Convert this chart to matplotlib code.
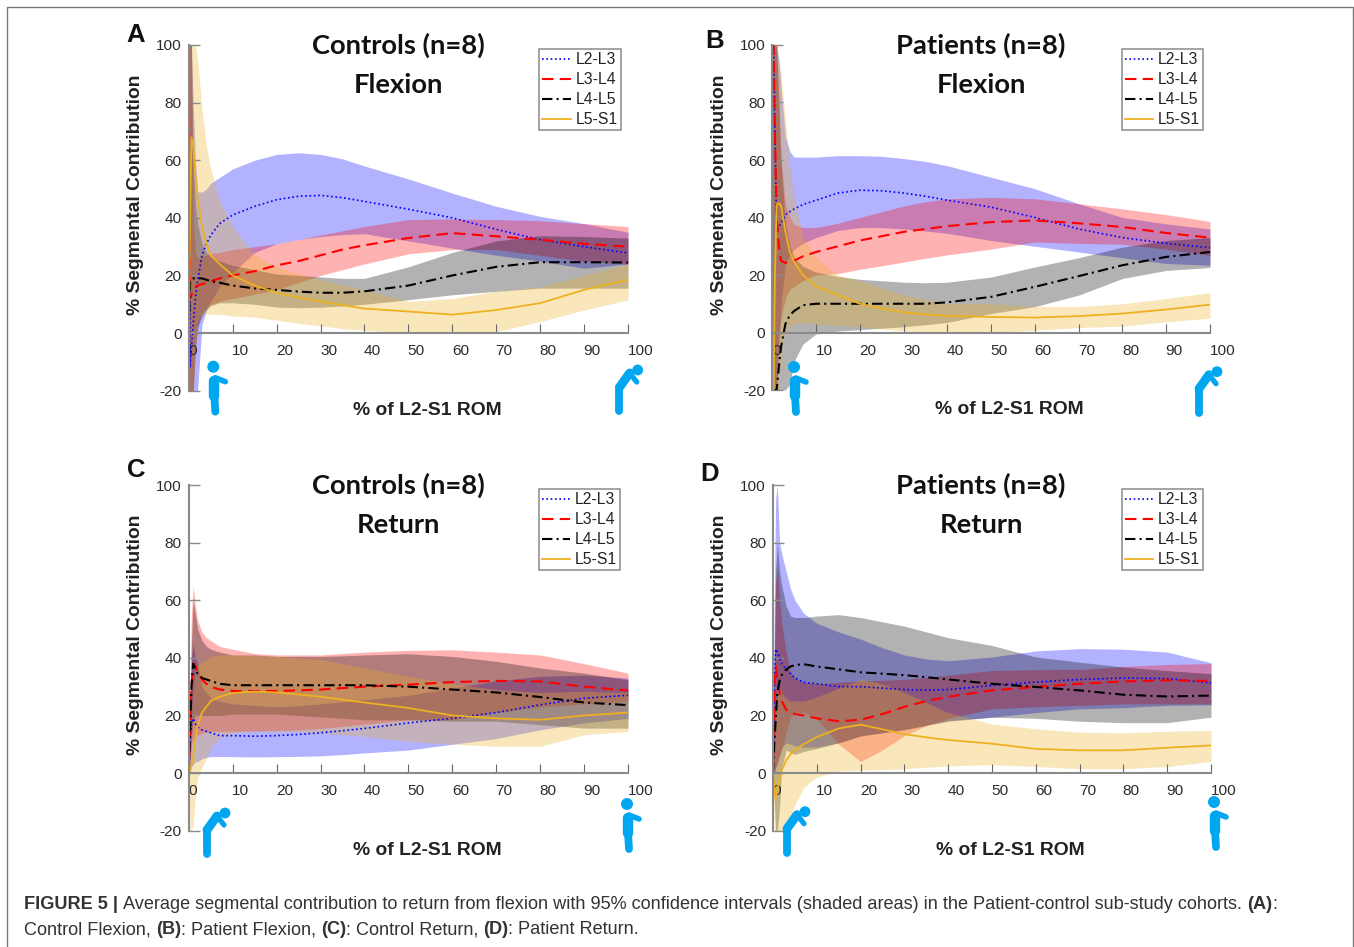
import matplotlib
matplotlib.use("Agg")
import matplotlib.pyplot as plt
from matplotlib.lines import Line2D
from matplotlib.patches import Circle
from matplotlib.transforms import ScaledTranslation

plt.rcParams['font.family'] = ['Liberation Sans', 'DejaVu Sans']
plt.rcParams['axes.unicode_minus'] = False

# % of L2-S1 ROM, gemeinsam fuer alle Kurven
x_pct = [0, 0.3, 0.6, 1, 1.5, 2, 3, 4, 5, 7, 10, 15, 20, 25, 30, 35, 40, 50, 60, 70, 80, 90, 100]
segments = ["L2-L3", "L3-L4", "L4-L5", "L5-S1"]
y_ticks = [-20, 0, 20, 40, 60, 80, 100]
x_ticks = [0, 10, 20, 30, 40, 50, 60, 70, 80, 90, 100]

# A: Controls Flexion
a_l23_mean = [100, -12, -5, 3, 12, 18, 27, 31, 34, 38, 41, 44, 46.3, 47.5, 47.8, 47, 45.7, 43, 40, 36, 32.4, 30, 27.8]
a_l23_lo = [-20, -20, -20, -20, -20, -20, 3, 8, 11, 16, 21, 28, 31, 32.5, 33.5, 34.2, 34.5, 32, 29.5, 27, 25, 22.5, 24]
a_l23_hi = [100, 100, 100, 80, 60, 49, 49, 50, 52, 54, 57, 60, 62, 62.6, 62, 60.5, 58, 53.5, 48.6, 44, 40.5, 38, 35]
a_l34_mean = [100, 12, 13, 15, 16, 16.5, 17, 17.5, 18, 19, 20, 21.5, 23.5, 25, 27, 29, 30.5, 33, 34.7, 33.6, 32.4, 31, 30]
a_l34_lo = [-20, -20, -20, -20, -5, 3, 7, 9, 10, 11, 12, 13.5, 15, 17.5, 20, 22, 24, 27.5, 29, 29, 27, 25, 24]
a_l34_hi = [100, 100, 100, 40, 28, 26, 26.5, 27, 27.5, 28, 29, 30, 31, 32.5, 34, 35.5, 37, 39.4, 39.6, 39.4, 39, 38, 37]
a_l45_mean = [0, 18, 19, 19, 19, 19, 19, 18.5, 18, 17.5, 16.5, 15.5, 15, 14.4, 14, 14, 14.5, 16.5, 20, 23, 24.6, 24.6, 24.5]
a_l45_lo = [-20, -20, -20, -20, -5, 2, 6, 8, 9.5, 10.5, 10.5, 10, 9, 8.8, 9, 9.4, 10, 11.6, 13.3, 14.5, 15.6, 15.6, 15.6]
a_l45_hi = [100, 100, 100, 60, 45, 38, 31, 28, 26.5, 25, 23.5, 22, 20.5, 20, 19.5, 19, 19, 23, 28, 32, 33.8, 33.5, 33]
a_l5s_mean = [0, 40, 68, 65, 55, 47, 37, 31, 27, 24, 20, 16.5, 14, 12.4, 11, 9.7, 8.5, 7.5, 6.4, 8, 10.4, 15, 18.5]
a_l5s_lo = [-20, -20, -20, -20, -5, 4, 6.5, 6.5, 6.5, 6.5, 6, 5.5, 4.5, 3.4, 2.5, 1.6, 1, 0, 0, 0.5, 4, 8, 11.5]
a_l5s_hi = [100, 100, 100, 100, 100, 95, 78, 65, 57, 46, 37, 27, 23, 20.5, 18.5, 16.7, 15, 11, 12, 14.5, 16, 20, 24]

# B: Patients Flexion
b_l23_mean = [100, 100, 70, 35, 37, 38, 41, 42, 43, 44.5, 46, 48.5, 49.5, 49.3, 48.5, 47.4, 46, 43.6, 40, 36, 33, 31, 29.5]
b_l23_lo = [-20, -20, -20, -20, -5, 10, 24, 27, 29, 31, 33, 35.5, 36.5, 36.5, 36, 35.3, 34.5, 32, 30, 28, 26, 24, 23.4]
b_l23_hi = [100, 100, 100, 100, 95, 85, 68, 63, 61, 61, 61, 61.5, 61.5, 61.3, 60.5, 59.5, 58, 54, 50, 44.8, 40, 37.8, 36]
b_l34_mean = [100, 100, 70, 40, 30, 25, 24.2, 24.5, 25, 26.5, 28, 30, 32, 33.5, 35, 36, 37, 38.4, 39, 38, 36.7, 34.6, 33]
b_l34_lo = [-20, -20, -20, -20, 0, 5, 12, 15, 16, 18, 20, 20.5, 22, 23.2, 24.5, 25.8, 27, 29, 31.5, 31, 30.7, 29, 26.8]
b_l34_hi = [100, 100, 100, 100, 80, 60, 45, 40, 37.5, 36.5, 36.5, 38, 40, 42, 44, 45.5, 46.5, 47, 46.5, 44.8, 43, 41, 38.6]
b_l45_mean = [-20, -20, -20, -20, -12, -5, 3, 6, 7.5, 9.5, 10, 10, 10, 10, 10, 10, 10.5, 12.4, 15.9, 19.6, 23.4, 26.3, 28]
b_l45_lo = [-20, -20, -20, -20, -20, -20, -20, -18, -10, -4, -0.5, 0.5, 1, 1.5, 2, 2.7, 3.5, 6.6, 9, 13, 18.8, 21.6, 22.6]
b_l45_hi = [100, 100, 100, 100, 80, 60, 38, 30, 26, 23, 21, 19.5, 18.5, 18, 17.5, 17.3, 17.5, 19.3, 22.8, 26, 29.7, 32, 33]
b_l5s_mean = [-20, -20, 20, 44.5, 45, 44, 35, 28, 24.5, 20, 16, 13, 10, 8.3, 7, 6.3, 5.8, 5.4, 5.2, 5.7, 6.6, 8, 9.7]
b_l5s_lo = [-20, -20, -20, -20, -20, -5, 0, 2, 3, 3.5, 3, 2.5, 2, 1.2, 0.5, 0.2, 0, 0, 0.8, 1.7, 2.2, 3.7, 5]
b_l5s_hi = [100, 100, 100, 100, 95, 90, 74, 58, 47, 33, 26, 20, 18, 15.5, 13, 11.5, 10, 10, 9, 9, 10, 11.8, 13.9]

# C: Controls Return
c_l23_mean = [0, 10, 17, 19, 17, 16, 15, 14.5, 14, 13, 13, 12.8, 13, 13.4, 14, 14.7, 15.5, 17.4, 19, 21, 23.7, 26, 27]
c_l23_lo = [0, 0, 2, 3, 4, 4, 5, 5.5, 5.7, 5.8, 5.7, 5.6, 5.7, 5.8, 6, 6.4, 7, 8, 10, 12, 15, 17.4, 19]
c_l23_hi = [0, 20, 40, 45, 40, 38, 30, 28, 26, 25, 24, 23.5, 23, 23.4, 24, 24.7, 25.5, 27, 29.5, 32, 33.6, 34, 33]
c_l34_mean = [0, 15, 30, 38, 37, 35.5, 32.5, 31, 30, 29, 28.5, 28.5, 28.5, 28.7, 29, 29.5, 30, 30.7, 31.6, 32, 31.8, 30, 28.7]
c_l34_lo = [0, 5, 10, 12, 13, 13, 14, 14, 14.5, 14.5, 14.5, 14.6, 14.8, 15, 15.5, 16.2, 17, 18.5, 18.5, 21, 23, 24, 25]
c_l34_hi = [0, 30, 55, 65, 58, 53, 49, 47, 46, 44, 43, 41.5, 41, 41, 41, 41.5, 42, 42.6, 42.8, 42, 41, 38, 34.7]
c_l45_mean = [0, 15, 30, 38, 36, 34.5, 33, 32.5, 32, 31, 30.5, 30.5, 30.5, 30.5, 30.5, 30.5, 30.5, 30, 29, 28, 26.4, 24.5, 23.6]
c_l45_lo = [0, 5, 12, 18, 20, 20, 20, 20, 20, 20, 20.5, 20.5, 20.5, 20, 19.5, 19, 18.5, 18.5, 18, 18, 16.8, 15.6, 15.6]
c_l45_hi = [0, 20, 45, 60, 55, 50, 46, 44, 43, 42, 41, 41, 40.5, 40.5, 40.5, 40.7, 41, 41.4, 40.5, 38.8, 36.5, 34.7, 32.4]
c_l5s_mean = [0, 1, 3, 6, 12, 16, 21, 23, 25, 26.5, 27.8, 28.3, 28, 27.3, 26.5, 25.5, 24.5, 22.6, 20, 19, 18.5, 20, 21]
c_l5s_lo = [0, -20, -20, -18, -8, -2, 2, 5, 9, 12, 14, 14.5, 14.5, 14.3, 14, 13.4, 12.7, 11, 10, 9.3, 9.3, 13.3, 14.5]
c_l5s_hi = [0, 10, 20, 30, 36, 37.5, 38.5, 39.5, 40.5, 41, 41, 40.8, 40.5, 40, 39.4, 38, 36.5, 33.6, 31, 29, 28, 28.4, 28]

# D: Patients Return
d_l23_mean = [0, 30, 43, 42, 40, 38, 36, 34.5, 33, 31.5, 31, 30, 30, 29.5, 29, 28.8, 29, 30.4, 31.6, 32.5, 33, 32.8, 31.3]
d_l23_lo = [0, 0, 2, 3, 6, 9, 10.5, 10, 9.5, 9, 9, 10.5, 13, 14, 15.2, 16.7, 18.2, 19.4, 21, 22.3, 22.7, 23.5, 23.7]
d_l23_hi = [0, 60, 95, 100, 80, 76, 70, 64, 60, 55.5, 52, 49, 46.5, 43.5, 41, 39.6, 39, 40.3, 42.4, 43.2, 43, 42, 38.3]
d_l34_mean = [0, 25, 37, 33, 28, 25, 22, 21, 20.5, 20, 19, 18, 18.5, 20.5, 23, 25, 26.5, 28.7, 29.9, 31, 31.8, 32.2, 32]
d_l34_lo = [0, 0, 2, 4, 6, 8, 14, 19.5, 21, 21, 18.9, 10, 4, 8, 13, 16.5, 19, 22.3, 23, 23.5, 24, 24, 24]
d_l34_hi = [0, 40, 65, 72, 60, 52, 42, 35, 33, 31.5, 31, 31.5, 32, 32.2, 32.5, 33.2, 34, 35.6, 35.9, 36, 37, 37.7, 38]
d_l45_mean = [0, 10, 18, 28, 32, 34, 36, 37, 37.5, 37.8, 37, 36, 35, 34.5, 34, 33.3, 32.5, 31, 29.9, 28.7, 27.2, 26.6, 26.9]
d_l45_lo = [0, -10, -20, -20, -12, 2, 8, 7, 6.5, 7.5, 8.5, 10.5, 12.8, 14, 15, 16.5, 18, 19.4, 19, 18, 17.5, 17.5, 19.4]
d_l45_hi = [0, 40, 70, 80, 70, 65, 58, 54.5, 54, 54, 54.5, 55, 54, 52.5, 51, 49, 47, 44.3, 40.3, 38.5, 36.8, 35.6, 34.5]
d_l5s_mean = [0, -5, -9, -6, -2, 1, 4.5, 6.5, 8, 10, 12.5, 15.5, 16.8, 15.2, 13.5, 12.4, 11.5, 10.2, 8.4, 7.9, 7.9, 8.8, 9.6]
d_l5s_lo = [0, -20, -20, -20, -20, -20, -20, -15, -11, -5, -1.4, 0.8, 1, 1.2, 1.5, 2, 2.5, 2.9, 2.3, 1.5, 1.5, 2.3, 4]
d_l5s_hi = [0, 10, 20, 28, 30, 28, 26, 25, 25, 25, 26.4, 29.5, 32.5, 31, 28, 24.5, 21, 17, 15.4, 14.2, 14, 14.5, 14.8]

W, H = 1354, 947
colors = ["#0000ff", "#ff0000", "#000000", "#edb120"]
styles = [(0, (1, 1.6)), (0, (5.5, 3)), (0, (5, 2, 1, 2)), "-"]
widths = [1.2, 1.5, 1.5, 1.3]
gray = "#8a8a8a"
text_col = "#2b2b2b"
blue_fig = "#00a6f0"

fig = plt.figure(figsize=(W / 100, H / 100), dpi=100)


def px_axes(left, top, right, bottom):
    return fig.add_axes([left / W, 1 - bottom / H, (right - left) / W, (bottom - top) / H])


panels = [
    dict(box=(188.8, 45, 628, 390.7), legend=(539.3, 49.3), letter=("A", 136, 34.5),
         title=("Controls (n=8)", "Flexion", 398), ylab=135, xlab=(427, 410),
         data=[(a_l23_mean, a_l23_lo, a_l23_hi), (a_l34_mean, a_l34_lo, a_l34_hi),
               (a_l45_mean, a_l45_lo, a_l45_hi), (a_l5s_mean, a_l5s_lo, a_l5s_hi)]),
    dict(box=(772.3, 45, 1210, 390), legend=(1121.7, 49.3), letter=("B", 715, 40.5),
         title=("Patients (n=8)", "Flexion", 981), ylab=719, xlab=(1009, 409),
         data=[(b_l23_mean, b_l23_lo, b_l23_hi), (b_l34_mean, b_l34_lo, b_l34_hi),
               (b_l45_mean, b_l45_lo, b_l45_hi), (b_l5s_mean, b_l5s_lo, b_l5s_hi)]),
    dict(box=(188.8, 485, 628, 830.7), legend=(538.7, 489.3), letter=("C", 136, 469.5),
         title=("Controls (n=8)", "Return", 398), ylab=135, xlab=(427, 850),
         data=[(c_l23_mean, c_l23_lo, c_l23_hi), (c_l34_mean, c_l34_lo, c_l34_hi),
               (c_l45_mean, c_l45_lo, c_l45_hi), (c_l5s_mean, c_l5s_lo, c_l5s_hi)]),
    dict(box=(773, 485, 1211, 830.7), legend=(1121.7, 489.3), letter=("D", 710, 473.5),
         title=("Patients (n=8)", "Return", 981), ylab=719, xlab=(1010, 850),
         data=[(d_l23_mean, d_l23_lo, d_l23_hi), (d_l34_mean, d_l34_lo, d_l34_hi),
               (d_l45_mean, d_l45_lo, d_l45_hi), (d_l5s_mean, d_l5s_lo, d_l5s_hi)]),
]

for p in panels:
    ax = px_axes(*p["box"])
    ax.patch.set_alpha(0)
    for (mean, lo, hi), col in zip(p["data"], colors):
        ax.fill_between(x_pct, lo, hi, color=col, alpha=0.3, linewidth=0)
    handles = []
    for (mean, lo, hi), col, ls, lw, name in zip(p["data"], colors, styles, widths, segments):
        line, = ax.plot(x_pct, mean, color=col, linestyle=ls, linewidth=lw, label=name)
        handles.append(line)
    ax.set_xlim(0, 100)
    ax.set_ylim(-20, 100)
    ax.spines["top"].set_visible(False)
    ax.spines["right"].set_visible(False)
    ax.spines["bottom"].set_position(("data", 0))
    for side in ["left", "bottom"]:
        ax.spines[side].set_color(gray)
        ax.spines[side].set_linewidth(1.5)
    ax.set_xticks(x_ticks)
    ax.set_yticks(y_ticks)
    ax.tick_params(axis="x", direction="in", length=6.5, width=0.8, color="#666666",
                   labelsize=11.1, labelcolor=text_col, pad=8.2)
    ax.tick_params(axis="y", direction="in", length=8, width=1.0, color=gray,
                   labelsize=11.1, labelcolor=text_col, pad=5)
    # die Zahlen stehen im Original etwas rechts neben den Ticks
    for tick, val in zip(ax.xaxis.get_major_ticks(), x_ticks):
        dx = 4 if val == 0 else (12.5 if val == 100 else 8)
        lab = tick.label1
        lab.set_transform(lab.get_transform() + ScaledTranslation(dx / 100, 0, fig.dpi_scale_trans))
    # Legendenbox ueber Pixelposition
    leg = ax.legend(handles=handles, loc="upper left",
                    bbox_to_anchor=(p["legend"][0] / W, 1 - p["legend"][1] / H),
                    bbox_transform=fig.transFigure, fontsize=11.3, frameon=True, fancybox=False,
                    framealpha=1, edgecolor=gray, borderaxespad=0, borderpad=0.2,
                    labelspacing=0.31, handlelength=1.8, handletextpad=0.3, labelcolor="#222222")
    leg.get_frame().set_linewidth(1.1)

# Overlay in Pixelkoordinaten fuer Rahmen, Texte und Figuren
ov = fig.add_axes([0, 0, 1, 1], zorder=5)
ov.set_xlim(0, W)
ov.set_ylim(H, 0)
ov.axis("off")
ov.patch.set_alpha(0)

ov.plot([6.5, 6.5, 1353, 1353], [H, 6.5, 6.5, H], color="#777777", linewidth=1.0)


def person_standing(hx, hy):
    ov.add_patch(Circle((hx, hy), 6.0, color=blue_fig, linewidth=0))
    ov.add_line(Line2D([hx + 0.5, hx + 0.5], [hy + 14, hy + 29], color=blue_fig, linewidth=7.5,
                       solid_capstyle="round"))
    ov.add_line(Line2D([hx + 1, hx + 2], [hy + 29, hy + 45], color=blue_fig, linewidth=5.6,
                       solid_capstyle="round"))
    ov.add_line(Line2D([hx + 2, hx + 12], [hy + 11, hy + 15], color=blue_fig, linewidth=4.0,
                       solid_capstyle="round"))


def person_bent(hx, hy):
    ov.add_patch(Circle((hx, hy), 5.4, color=blue_fig, linewidth=0))
    ov.add_line(Line2D([hx - 18, hx - 8], [hy + 17, hy + 3], color=blue_fig, linewidth=6.4,
                       solid_capstyle="round"))
    ov.add_line(Line2D([hx - 18.5, hx - 18.5], [hy + 17, hy + 41], color=blue_fig, linewidth=5.6,
                       solid_capstyle="round"))
    ov.add_line(Line2D([hx - 8, hx - 1], [hy + 3, hy + 12], color=blue_fig, linewidth=3.8,
                       solid_capstyle="round"))


person_standing(213.3, 366.7)
person_bent(637.7, 370)
person_standing(794, 367)
person_bent(1217, 371.7)
person_bent(225, 813)
person_standing(627, 804)
person_bent(805, 811.7)
person_standing(1214, 802)

title_font = ['Lato', 'DejaVu Sans']
for p in panels:
    letter, lx, ly = p["letter"]
    ov.text(lx, ly, letter, fontsize=18.5, fontweight="bold", color="#111111", ha="center", va="center")
    line1, line2, tx = p["title"]
    top = p["box"][1]
    ov.text(tx, top + 0.5, line1, family=title_font, fontsize=19.7, fontweight="bold", color="#111111",
            ha="center", va="center")
    ov.text(tx, top + 39.5, line2, family=title_font, fontsize=19.7, fontweight="bold", color="#111111",
            ha="center", va="center")
    ov.text(p["ylab"], top + 150, "% Segmental Contribution", rotation=90, fontsize=13.9, fontweight="bold",
            color="#222222", ha="center", va="center")
    ov.text(p["xlab"][0], p["xlab"][1], "% of L2-S1 ROM", fontsize=13.9, fontweight="bold",
            color="#222222", ha="center", va="center")


def rich_line(x, y, pieces):
    # Abschnitte normal/fett nacheinander setzen
    renderer = fig.canvas.get_renderer()
    for txt, weight in pieces:
        t = ov.text(x, y, txt, fontsize=13.07, fontweight=weight, color="#333333", ha="left", va="baseline")
        x = t.get_window_extent(renderer).x1


rich_line(24, 909, [("FIGURE 5 | ", "bold"),
                    ("Average segmental contribution to return from flexion with 95% confidence intervals "
                     "(shaded areas) in the Patient-control sub-study cohorts. ", "normal"),
                    ("(A)", "bold"), (":", "normal")])
rich_line(24, 934, [("Control Flexion, ", "normal"), ("(B)", "bold"), (": Patient Flexion, ", "normal"),
                    ("(C)", "bold"), (": Control Return, ", "normal"), ("(D)", "bold"),
                    (": Patient Return.", "normal")])

fig.savefig("out.png", dpi=100)
